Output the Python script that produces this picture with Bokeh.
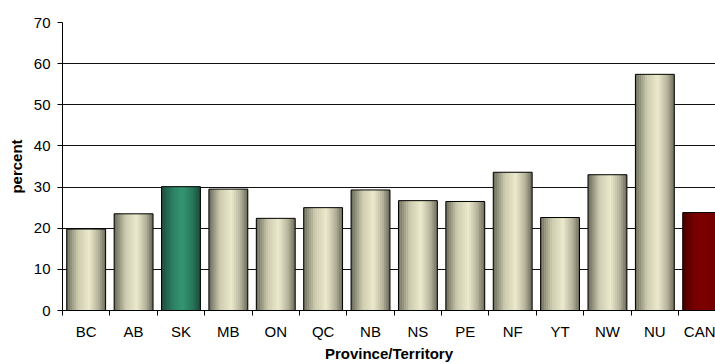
import numpy as np
from bokeh.plotting import figure
from bokeh.models import Range1d, FixedTicker
from bokeh.embed import file_html
from bokeh.resources import INLINE

categories = ["BC", "AB", "SK", "MB", "ON", "QC", "NB", "NS", "PE", "NF", "YT", "NW", "NU", "CAN"]
values = [19.8, 23.5, 30.1, 29.5, 22.4, 25.0, 29.3, 26.7, 26.5, 33.6, 22.6, 33.0, 57.4, 23.8]
bar_kind = ["p", "p", "sk", "p", "p", "p", "p", "p", "p", "p", "p", "p", "p", "can"]

# gradient stops (t, rgb) per bar kind
stops = {
    "p": [(0.0, (104, 104, 88)), (0.3, (205, 203, 175)), (0.58, (236, 234, 205)), (0.82, (180, 178, 154)), (1.0, (104, 104, 88))],
    "sk": [(0.0, (26, 72, 56)), (0.3, (44, 130, 100)), (0.55, (52, 150, 116)), (0.8, (40, 118, 90)), (1.0, (26, 70, 54))],
    "can": [(0.0, (70, 0, 0)), (0.3, (118, 0, 0)), (0.55, (126, 0, 0)), (0.8, (116, 0, 0)), (1.0, (80, 0, 0))],
}

def grad(kind, t):
    s = stops[kind]
    for (t0, c0), (t1, c1) in zip(s[:-1], s[1:]):
        if t0 <= t <= t1:
            f = (t - t0) / (t1 - t0)
            c = [int(round(a + (b - a) * f)) for a, b in zip(c0, c1)]
            return "#%02x%02x%02x" % tuple(c)
    return "#000000"

n_cat = len(categories)
centers = np.arange(n_cat) + 0.5
bar_w = 0.82
n_strips = 20
sw = bar_w / n_strips

p = figure(width=715, height=364, output_backend="svg", toolbar_location=None,
           x_range=Range1d(0, 13.78), y_range=Range1d(0, 70),
           min_border_left=62, min_border_right=0, min_border_top=22, min_border_bottom=54)
p.outline_line_color = None
p.background_fill_color = "white"
p.border_fill_color = "white"

# solid base so that no gridline shows between gradient strips
p.vbar(x=centers, top=values, bottom=0, width=bar_w,
       fill_color=[grad(k, 0.5) for k in bar_kind], line_color=None)
xs, tops, cols = [], [], []
for c, v, k in zip(centers, values, bar_kind):
    for i in range(n_strips):
        t = (i + 0.5) / n_strips
        xs.append(c - bar_w / 2 + (i + 0.5) * sw)
        tops.append(v)
        cols.append(grad(k, t))
p.vbar(x=xs, top=tops, bottom=0, width=sw * 1.15, fill_color=cols, line_color=None)
p.vbar(x=centers, top=values, bottom=0, width=bar_w, fill_color=None, line_color="black", line_width=1)

p.xgrid.visible = False
p.ygrid.ticker = FixedTicker(ticks=list(range(0, 71, 10)))
p.ygrid.grid_line_color = "#111111"
p.ygrid.grid_line_width = 1

p.yaxis.ticker = FixedTicker(ticks=list(range(0, 71, 10)))
p.yaxis.axis_line_color = "black"
p.yaxis.major_tick_line_color = "black"
p.yaxis.major_tick_out = 5
p.yaxis.major_tick_in = 0
p.yaxis.minor_tick_line_color = None
p.yaxis.major_label_standoff = 7
p.yaxis.axis_label = "percent"
p.yaxis.axis_label_text_font = "Liberation Sans"
p.yaxis.axis_label_text_font_style = "bold"
p.yaxis.axis_label_text_font_size = "15px"
p.yaxis.axis_label_text_color = "black"
p.yaxis.axis_label_standoff = 6
p.yaxis.major_label_text_font = "Liberation Sans"
p.yaxis.major_label_text_font_size = "15px"
p.yaxis.major_label_text_color = "black"

p.xaxis.ticker = FixedTicker(ticks=list(centers), minor_ticks=list(range(0, n_cat + 1)))
p.xaxis.major_label_overrides = {float(c): lab for c, lab in zip(centers, categories)}
p.xaxis.major_tick_out = 0
p.xaxis.major_tick_in = 0
p.xaxis.minor_tick_out = 5
p.xaxis.minor_tick_in = 0
p.xaxis.minor_tick_line_color = "black"
p.xaxis.axis_line_color = "black"
p.xaxis.major_label_standoff = 7
p.xaxis.major_label_text_font = "Liberation Sans"
p.xaxis.major_label_text_font_size = "15px"
p.xaxis.major_label_text_color = "black"
p.xaxis.axis_label = "Province/Territory"
p.xaxis.axis_label_text_font = "Liberation Sans"
p.xaxis.axis_label_text_font_style = "bold"
p.xaxis.axis_label_text_font_size = "15px"
p.xaxis.axis_label_text_color = "black"
p.xaxis.axis_label_standoff = 2

open("out.html", "w").write(file_html(p, INLINE))
